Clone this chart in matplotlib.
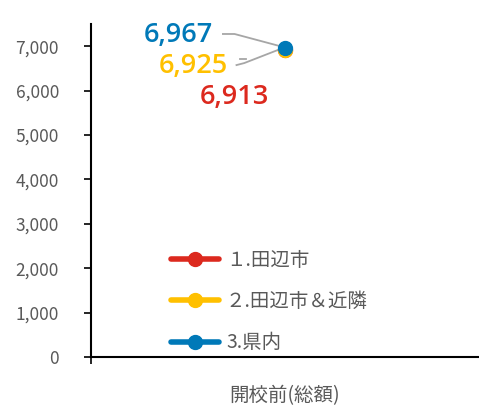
import matplotlib.pyplot as plt
from matplotlib.ticker import FuncFormatter

plt.rcParams['font.family'] = ['Noto Sans CJK JP', 'DejaVu Sans']

categories = ['開校前(総額)']
series_names = ['１.田辺市', '２.田辺市＆近隣', '3.県内']
series_values = [[6913], [6925], [6967]]
colors = ['#DC291E', '#FFC000', '#0079B8']
label_texts = ['6,913', '6,925', '6,967']

fig = plt.figure(figsize=(4.79, 4.07), dpi=100)
ax = fig.add_axes([91/479, 1-357/407, (479-91)/479, (357-24)/407])

x = range(len(categories))
for name, vals, c in zip(series_names, series_values, colors):
    ax.plot(x, vals, color=c, lw=4, marker='o', ms=10, label=name, solid_capstyle='round')

ax.set_xlim(-0.5, 0.5)
ax.set_ylim(0, 7500)
ax.set_yticks(range(0, 7001, 1000))
ax.yaxis.set_major_formatter(FuncFormatter(lambda v, p: f'{int(v):,}'))
ax.set_xticks([-0.5])
ax.set_xticklabels([''])
ax.tick_params(axis='y', direction='out', length=5, width=1.2, colors='black', labelcolor='#595959', labelsize=12.5, pad=18)
ax.tick_params(axis='x', direction='out', length=5, width=1.2)
ax.text(0, -0.085, categories[0], transform=ax.get_xaxis_transform(), ha='center', va='top', fontsize=14, color='#595959')
for s in ['top', 'right']:
    ax.spines[s].set_visible(False)
ax.spines['left'].set_linewidth(1.5)
ax.spines['bottom'].set_linewidth(1.5)

# data labels with leader lines
offsets = [(-0.13, 5856), (-0.235, 6554), (-0.276, 7252)]
for (ox, oy), txt, c in zip(offsets, label_texts, colors):
    ax.text(ox, oy, txt, color=c, fontsize=19.5, fontweight='semibold', ha='center', va='center',
            family='Open Sans')
# leaders
ax.plot([-0.16, -0.13, -0.008], [7275, 7275, 6990], color='#A6A6A6', lw=1.3, zorder=1)
ax.plot([-0.125, -0.105, -0.008], [6575, 6620, 6950], color='#A6A6A6', lw=1.3, zorder=1)
ax.plot([-0.115, -0.10], [6720, 6720], color='#A6A6A6', lw=1.3, zorder=1)

leg = ax.legend(loc='upper left', bbox_to_anchor=(0.16, 0.375), frameon=False, fontsize=14,
                handlelength=2.5, labelspacing=1.05, handletextpad=0.35)
for t in leg.get_texts():
    t.set_color('#595959')

fig.savefig('out.png', dpi=100)
